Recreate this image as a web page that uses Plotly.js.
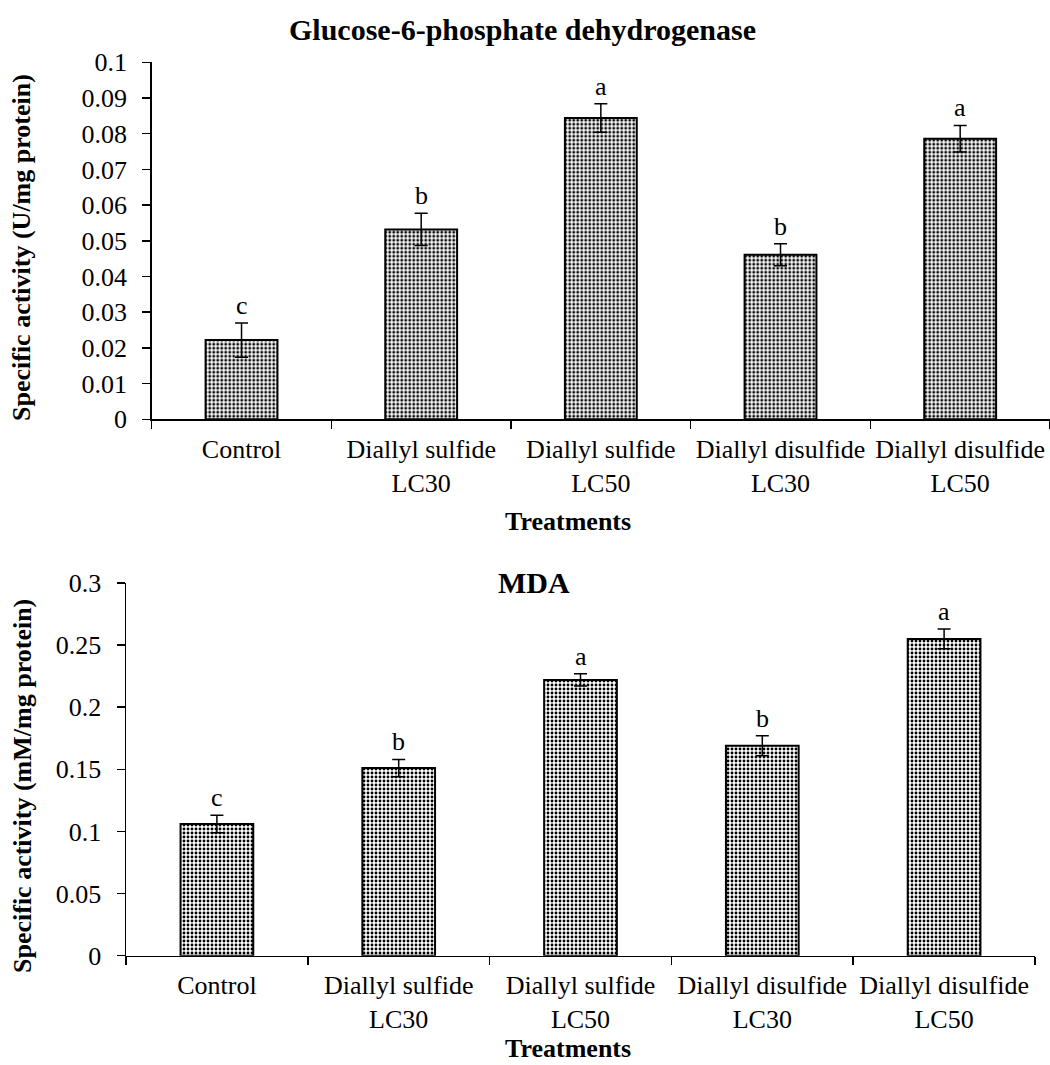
<!DOCTYPE html>
<html>
<head>
<meta charset="utf-8">
<script src="https://cdn.plot.ly/plotly-3.0.1.min.js"></script>
<style>
  html, body { margin: 0; padding: 0; background: #ffffff; overflow: hidden; }
  #chart { width: 1050px; height: 1065px; }
</style>
</head>
<body>
<div id="chart"></div>
<script>
// ---- data ----
const categories = ["Control", "Diallyl sulfide LC30", "Diallyl sulfide LC50", "Diallyl disulfide LC30", "Diallyl disulfide LC50"];
const tickLabels = ["Control", "Diallyl sulfide<br>LC30", "Diallyl sulfide<br>LC50", "Diallyl disulfide<br>LC30", "Diallyl disulfide<br>LC50"];

const g6pdValues = [0.0222, 0.0532, 0.0844, 0.0461, 0.0786];
const g6pdErrors = [0.0048, 0.0045, 0.0040, 0.0031, 0.0037];
const g6pdLetters = ["c", "b", "a", "b", "a"];

const mdaValues = [0.106, 0.151, 0.222, 0.169, 0.255];
const mdaErrors = [0.007, 0.007, 0.005, 0.008, 0.008];
const mdaLetters = ["c", "b", "a", "b", "a"];

const g6pdTitle = "Glucose-6-phosphate dehydrogenase";
const mdaTitle = "MDA";
const xTitle = "Treatments";
const g6pdYTitle = "Specific activity (U/mg protein)";
const mdaYTitle = "Specific activity (mM/mg protein)";

// ---- styling ----
const W = 1050, H = 1065;
const FONT = "'Liberation Serif', 'Times New Roman', Times, serif";
const px = v => v / W;
const py = v => 1 - v / H;

function barTrace(vals, errs, xa, ya) {
  return {
    type: "bar",
    x: categories,
    y: vals,
    xaxis: xa,
    yaxis: ya,
    width: 0.4,
    marker: {
      color: "white",
      line: { color: "black", width: 2 },
      pattern: { shape: ".", fgcolor: "black", bgcolor: "white", size: 4, solidity: 0.4, fillmode: "replace" }
    },
    error_y: { type: "data", array: errs, visible: true, color: "black", thickness: 1.5, width: 6.5 },
    hoverinfo: "skip",
    showlegend: false
  };
}

const tickFont = { family: FONT, size: 26, color: "black" };

function xAxis(domain, anchor) {
  return {
    domain: domain, anchor: anchor, type: "category",
    range: [-0.5, 4.5],
    tickvals: categories, ticktext: tickLabels,
    showline: true, linecolor: "black", linewidth: 1.5,
    ticks: "outside", tickson: "boundaries", ticklen: 8, tickwidth: 1.5, tickcolor: "black",
    tickfont: tickFont, tickangle: 0, ticklabelstandoff: 6,
    showgrid: false, zeroline: false, fixedrange: true
  };
}
function yAxis(domain, anchor, range, dtick) {
  return {
    domain: domain, anchor: anchor,
    range: range, dtick: dtick, tick0: 0,
    showline: true, linecolor: "black", linewidth: 1.5,
    ticks: "outside", ticklen: 8, tickwidth: 1.5, tickcolor: "black",
    tickfont: tickFont, ticklabelstandoff: 10,
    showgrid: false, zeroline: false, fixedrange: true
  };
}

const annotations = [];
function addLetters(letters, vals, errs, xref, yref) {
  letters.forEach((t, i) => {
    annotations.push({
      text: t, x: categories[i], y: vals[i] + errs[i], xref: xref, yref: yref,
      yanchor: "bottom", yshift: 1, showarrow: false,
      font: { family: FONT, size: 26, color: "black" }
    });
  });
}
addLetters(g6pdLetters, g6pdValues, g6pdErrors, "x", "y");
addLetters(mdaLetters, mdaValues, mdaErrors, "x2", "y2");

function addText(text, x, y, size, angle) {
  annotations.push({
    text: text, x: px(x), y: py(y), xref: "paper", yref: "paper",
    xanchor: "center", yanchor: "middle", showarrow: false, textangle: angle || 0,
    font: { family: FONT, size: size, color: "black", weight: "bold" }
  });
}
addText(g6pdTitle, 522, 30, 30);
addText(mdaTitle, 534, 582, 30);
addText(xTitle, 568, 521, 26);
addText(xTitle, 568, 1048, 26);
addText(g6pdYTitle, 22, 248, 26, -90);
addText(mdaYTitle, 22, 786, 26, -90);

const layout = {
  width: W, height: H,
  margin: { l: 0, r: 0, t: 0, b: 0 },
  paper_bgcolor: "white", plot_bgcolor: "white",
  font: { family: FONT, color: "black" },
  xaxis: xAxis([px(151.7), 1], "y"),
  yaxis: yAxis([py(419.3), py(62.3)], "x", [0, 0.1], 0.01),
  xaxis2: xAxis([px(126), px(1035)], "y2"),
  yaxis2: yAxis([py(955.7), py(583)], "x2", [0, 0.3], 0.05),
  annotations: annotations,
  showlegend: false
};

Plotly.newPlot("chart", [
  barTrace(g6pdValues, g6pdErrors, "x", "y"),
  barTrace(mdaValues, mdaErrors, "x2", "y2")
], layout, { displayModeBar: false, staticPlot: true });
</script>
</body>
</html>
